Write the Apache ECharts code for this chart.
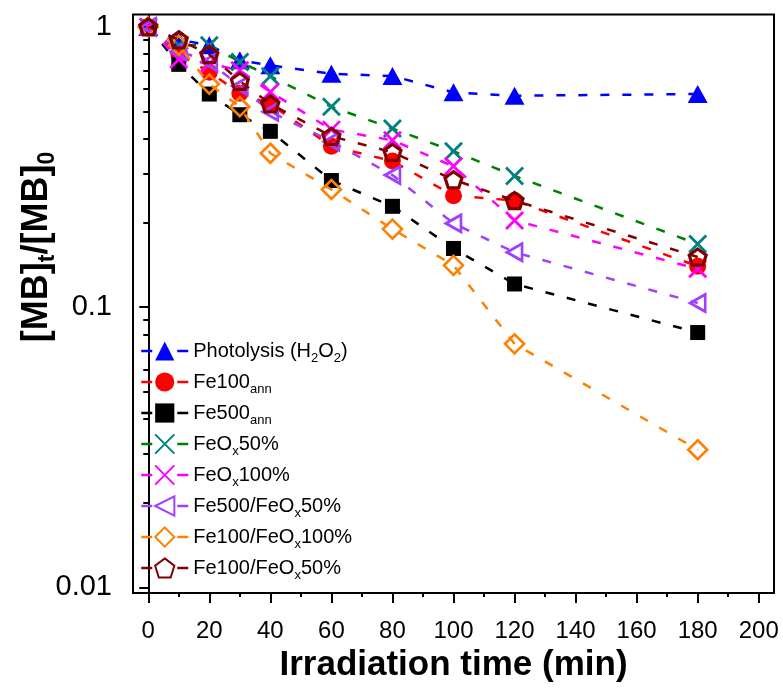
<!DOCTYPE html>
<html><head><meta charset="utf-8">
<script src="https://cdn.jsdelivr.net/npm/echarts@6/dist/echarts.min.js"></script>
<style>html,body{margin:0;padding:0;background:#fff}#c{width:783px;height:688px}</style>
</head><body><div id="c"></div>
<script>
// ---- data ----
const times = [0, 10, 20, 30, 40, 60, 80, 100, 120, 180];
const photolysis   = [1.0, 0.90, 0.86, 0.76, 0.729, 0.68, 0.668, 0.584, 0.568, 0.576];
const fe100ann     = [1.0, 0.80, 0.689, 0.58, 0.53, 0.375, 0.332, 0.25, 0.24, 0.14];
const fe500ann     = [1.0, 0.735, 0.576, 0.486, 0.424, 0.283, 0.229, 0.162, 0.121, 0.0812];
const feox50       = [1.0, 0.86, 0.86, 0.75, 0.667, 0.519, 0.434, 0.36, 0.294, 0.168];
const feox100      = [1.0, 0.765, 0.74, 0.70, 0.586, 0.43, 0.394, 0.318, 0.204, 0.137];
const fe500feox50  = [1.0, 0.82, 0.75, 0.615, 0.498, 0.39, 0.296, 0.199, 0.157, 0.1035];
const fe100feox100 = [1.0, 0.86, 0.625, 0.519, 0.354, 0.263, 0.19, 0.141, 0.074, 0.031];
const fe100feox50  = [1.0, 0.90, 0.797, 0.64, 0.531, 0.407, 0.357, 0.285, 0.24, 0.151];
const seriesNames = ['Photolysis (H2O2)', 'Fe100ann', 'Fe500ann', 'FeOx50%', 'FeOx100%', 'Fe500/FeOx50%', 'Fe100/FeOx100%', 'Fe100/FeOx50%'];
const legendLabels = ['Photolysis (H{s|2}O{s|2})', 'Fe100{s|ann}', 'Fe500{s|ann}', 'FeO{s|x}50%', 'FeO{s|x}100%', 'Fe500/FeO{s|x}50%', 'Fe100/FeO{s|x}100%', 'Fe100/FeO{s|x}50%'];
const xTickValues = [0, 20, 40, 60, 80, 100, 120, 140, 160, 180, 200];
const xMinorValues = [10, 30, 50, 70, 90, 110, 130, 150, 170, 190];
const yTickValues = [0.01, 0.1, 1];
const yMinorValues = [0.02, 0.03, 0.04, 0.05, 0.06, 0.07, 0.08, 0.09, 0.2, 0.3, 0.4, 0.5, 0.6, 0.7, 0.8, 0.9];
const xTitle = 'Irradiation time (min)';
const yTitle = '[MB]{s|t}/[MB]{s|0}';

// ---- fonts ----
function hasFont(name) {
  const c = document.createElement('canvas').getContext('2d');
  const t = '0123456789 Irradiation';
  c.font = '40px monospace'; const a = c.measureText(t).width;
  c.font = "40px '" + name + "', monospace"; const b = c.measureText(t).width;
  return Math.abs(a - b) > 0.5;
}
const REG = "'Liberation Sans', Arial, sans-serif";
let NARROW = REG, narrowSize = 24;
if (hasFont('Liberation Sans Narrow')) { NARROW = "'Liberation Sans Narrow', " + REG; narrowSize = 27; }

// ---- styles ----
const pentagon = 'path://M50,0L97.55,34.55L79.39,90.45L20.61,90.45L2.45,34.55Z';
const cross = 'path://M0,0L10,10M10,0L0,10';
const CLEAR = 'rgba(255,255,255,0)';
const dash = [9, 13];
const styles = [
  { data: photolysis,   symbol: 'triangle', size: [20, 18], line: '#0000ff', fill: '#0000ff', stroke: '#0000ff', bw: 0 },
  { data: fe100ann,     symbol: 'circle',   size: 17, line: '#ff0000', fill: '#ff0000', stroke: '#ff0000', bw: 0 },
  { data: fe500ann,     symbol: 'rect',     size: 15, line: '#000000', fill: '#000000', stroke: '#000000', bw: 0 },
  { data: feox50,       symbol: cross,      size: 17, line: '#008000', fill: CLEAR, stroke: '#008080', bw: 2.8 },
  { data: feox100,      symbol: cross,      size: 17, line: '#ff00ff', fill: CLEAR, stroke: '#ff00ff', bw: 2.8 },
  { data: fe500feox50,  symbol: 'triangle', size: [17, 15], rotate: 90, line: '#a040ff', fill: CLEAR, stroke: '#a040ff', bw: 2.8 },
  { data: fe100feox100, symbol: 'diamond',  size: 19, line: '#ff8000', fill: CLEAR, stroke: '#ff8000', bw: 2.6 },
  { data: fe100feox50,  symbol: pentagon,   size: 17, line: '#800000', fill: CLEAR, stroke: '#800000', bw: 3.2 }
];

const series = styles.map((s, i) => ({
  name: seriesNames[i],
  type: 'line',
  xAxisIndex: 0, yAxisIndex: 0,
  data: times.map((t, k) => [t, s.data[k]]),
  symbol: s.symbol,
  symbolSize: s.size,
  symbolRotate: s.rotate || 0,
  symbolKeepAspect: true,
  showAllSymbol: true,
  lineStyle: { color: s.line, width: 2.5, type: dash },
  itemStyle: { color: s.fill, borderColor: s.stroke, borderWidth: s.bw },
  emphasis: { disabled: true },
  z: 2 + i
}));

const axisLineStyle = { color: '#000', width: 2 };
const chart = echarts.init(document.getElementById('c'), null, { renderer: 'canvas' });
chart.setOption({
  animation: false,
  backgroundColor: '#fff',
  grid: { left: 133, top: 14.5, right: 9, bottom: 88, show: true, borderColor: '#000', borderWidth: 2, backgroundColor: 'transparent' },
  xAxis: [
    { type: 'value', min: -5, max: 205, position: 'bottom',
      axisLine: { show: true, lineStyle: axisLineStyle },
      axisTick: { show: true, inside: false, length: 10, lineStyle: { color: '#000', width: 2 }, customValues: xTickValues },
      axisLabel: { show: true, customValues: xTickValues, margin: 26, fontFamily: NARROW, fontSize: narrowSize, color: '#000' },
      splitLine: { show: false },
      name: xTitle, nameLocation: 'middle', nameGap: 48,
      nameTextStyle: { fontFamily: REG, fontWeight: 'bold', fontSize: 35, color: '#000' } },
    { type: 'value', min: -5, max: 205, position: 'bottom',
      axisLine: { show: false },
      axisTick: { show: true, inside: false, length: 4, lineStyle: { color: '#000', width: 2 }, customValues: xMinorValues },
      axisLabel: { show: false }, splitLine: { show: false } }
  ],
  yAxis: [
    { type: 'log', logBase: 10, min: 0.00955, max: 1.107, position: 'left',
      axisLine: { show: true, lineStyle: axisLineStyle },
      axisTick: { show: true, inside: false, length: 9, lineStyle: { color: '#000', width: 2 }, customValues: yTickValues },
      axisLabel: { show: true, customValues: yTickValues, margin: 21, fontFamily: REG, fontSize: 29, color: '#000',
        formatter: v => String(+(+v).toPrecision(3)) },
      splitLine: { show: false }, minorTick: { show: false } },
    { type: 'log', logBase: 10, min: 0.00955, max: 1.107, position: 'left',
      axisLine: { show: false },
      axisTick: { show: true, inside: false, length: 5, lineStyle: { color: '#000', width: 2 }, customValues: yMinorValues },
      axisLabel: { show: false }, splitLine: { show: false } }
  ],
  legend: {
    orient: 'vertical', left: 135, top: 332,
    itemWidth: 47, itemHeight: 24, itemGap: 3,
    selectedMode: false,
    data: seriesNames,
    lineStyle: { type: [11, 25], width: 2.5 },
    formatter: name => legendLabels[seriesNames.indexOf(name)],
    textStyle: { fontFamily: REG, fontSize: 20, color: '#000', lineHeight: 28,
      rich: { s: { fontFamily: REG, fontSize: 13, lineHeight: 13, verticalAlign: 'bottom', color: '#000' } } }
  },
  graphic: [{
    type: 'text', x: 37, y: 247, rotation: Math.PI / 2, silent: true,
    style: { text: yTitle, fill: '#000', fontFamily: REG, fontWeight: 'bold', fontSize: 36, lineHeight: 44,
      align: 'center', verticalAlign: 'middle',
      rich: { s: { fontFamily: REG, fontWeight: 'bold', fontSize: 23, lineHeight: 23, verticalAlign: 'bottom', fill: '#000' } } }
  }],
  series: series
});
</script>
</body></html>
